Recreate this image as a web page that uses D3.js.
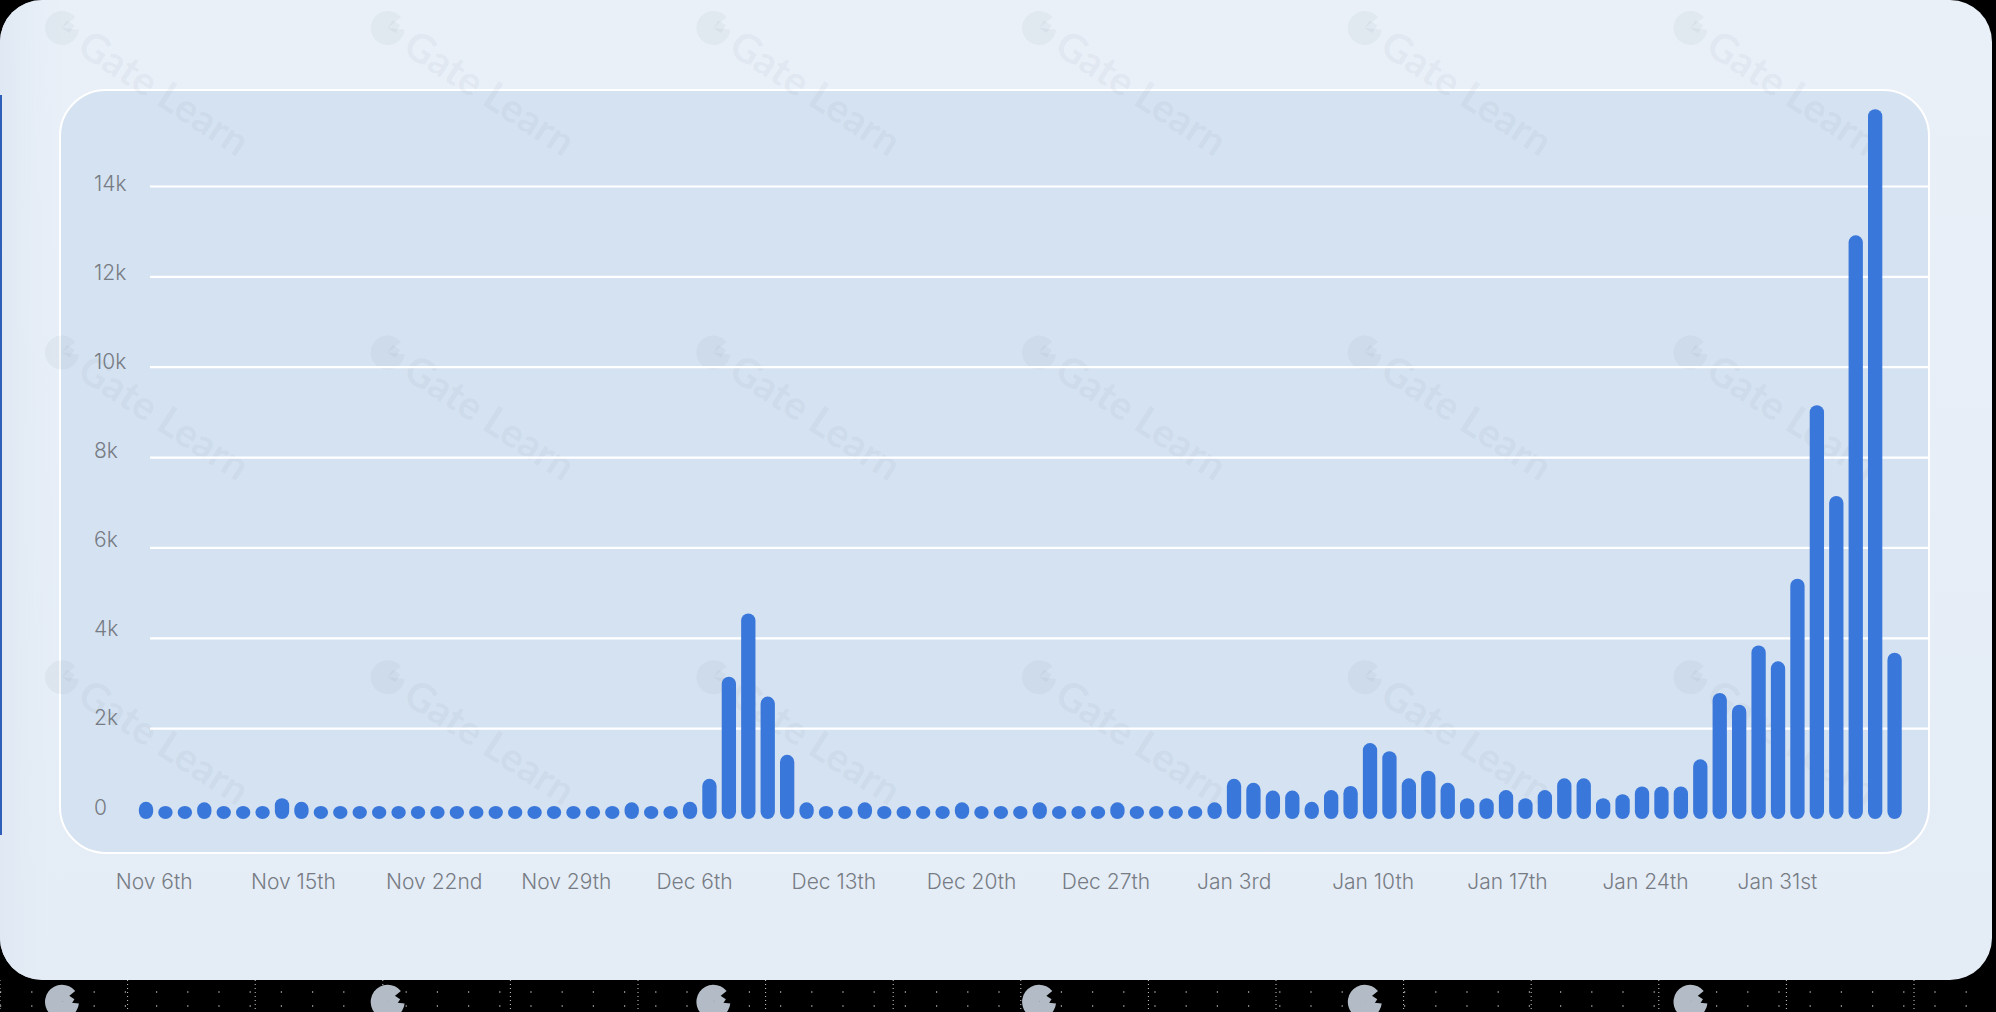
<!DOCTYPE html>
<html><head><meta charset="utf-8">
<script src="https://cdn.jsdelivr.net/npm/d3@7"></script>
<style>html,body{margin:0;padding:0;background:#000;overflow:hidden}</style>
</head><body><svg id="c" width="1996" height="1012"></svg>
<script>
// ---- data ----
const values = [
  380, 290, 290, 370, 290, 290, 290, 460, 380,
  290, 290, 290, 290, 290, 290, 290, 290, 290, 290, 290, 290, 290, 290, 290, 290,
  370, 290, 290, 380, 890, 3150, 4550, 2710, 1420, 370,
  290, 290, 370, 290, 290, 290, 290, 370, 290, 290, 290, 370, 290, 290, 290, 370,
  290, 290, 290, 290, 370, 890, 800, 630, 630, 380,
  640, 730, 1680, 1500, 900, 1070, 800, 460, 460, 640, 460, 640, 900, 900, 460,
  550, 720, 720, 720, 1320, 2790, 2530, 3840, 3490, 5320, 9160, 7150, 12920, 15710, 3680
];
const yTicks = [0, 2000, 4000, 6000, 8000, 10000, 12000, 14000];
const yTickLabels = ["0", "2k", "4k", "6k", "8k", "10k", "12k", "14k"];
const xTickLabels = ["Nov 6th", "Nov 15th", "Nov 22nd", "Nov 29th", "Dec 6th", "Dec 13th",
  "Dec 20th", "Dec 27th", "Jan 3rd", "Jan 10th", "Jan 17th", "Jan 24th", "Jan 31st"];

// ---- drawing ----
const svg = d3.select("#c");
const W = 1996, H = 1012;
const defs = svg.append("defs");

const g1 = defs.append("linearGradient").attr("id", "cardGrad").attr("x1", 0).attr("y1", 0).attr("x2", 0).attr("y2", 1);
g1.append("stop").attr("offset", "0%").attr("stop-color", "#e9f0f8");
g1.append("stop").attr("offset", "100%").attr("stop-color", "#e4ecf6");
const g2 = defs.append("linearGradient").attr("id", "edgeGrad").attr("x1", 0).attr("y1", 0).attr("x2", 1).attr("y2", 0);
g2.append("stop").attr("offset", "0%").attr("stop-color", "#dfe8f3").attr("stop-opacity", 1);
g2.append("stop").attr("offset", "100%").attr("stop-color", "#e7eef7").attr("stop-opacity", 0);

defs.append("clipPath").attr("id", "cardClip").append("rect")
  .attr("x", 0).attr("y", 0).attr("width", 1992).attr("height", 980).attr("rx", 42);
defs.append("clipPath").attr("id", "stripClip").append("rect")
  .attr("x", 0).attr("y", 980).attr("width", W).attr("height", 32);

// background
svg.append("rect").attr("width", W).attr("height", H).attr("fill", "#000");

// bottom strip dotted grid
const strip = svg.append("g");
d3.range(0, W, 127.6).forEach(x => {
  strip.append("line").attr("x1", x).attr("x2", x).attr("y1", 980).attr("y2", H)
    .attr("stroke", "#fff").attr("stroke-width", 1).attr("stroke-dasharray", "1,3").attr("opacity", 0.8);
});
strip.append("line").attr("x1", 0).attr("x2", W).attr("y1", 992).attr("y2", 992)
  .attr("stroke", "#fff").attr("stroke-width", 1.2).attr("stroke-dasharray", "1.2,30");
strip.append("line").attr("x1", 0).attr("x2", W).attr("y1", 1006).attr("y2", 1006)
  .attr("stroke", "#fff").attr("stroke-width", 1.2).attr("stroke-dasharray", "1.2,30");

// card
svg.append("rect").attr("x", 0).attr("y", 0).attr("width", 1992).attr("height", 980).attr("rx", 42)
  .attr("fill", "url(#cardGrad)");
svg.append("rect").attr("x", 0).attr("y", 0).attr("width", 70).attr("height", 980)
  .attr("fill", "url(#edgeGrad)").attr("clip-path", "url(#cardClip)");
svg.append("rect").attr("x", 0).attr("y", 95).attr("width", 2).attr("height", 740).attr("fill", "#2f5fb8");

// inner panel
svg.append("rect").attr("x", 60).attr("y", 90).attr("width", 1869).attr("height", 763).attr("rx", 46)
  .attr("fill", "#d5e2f1").attr("stroke", "#ffffff").attr("stroke-width", 2);

// watermarks
function logo(g, fill) {
  g.append("path")
    .attr("d", d3.arc()({innerRadius: 0, outerRadius: 17, startAngle: 0.35 * Math.PI, endAngle: 2.1 * Math.PI}))
    .attr("fill", fill);
  g.append("rect").attr("x", 0).attr("y", -9).attr("width", 9).attr("height", 9).attr("fill", fill);
}
function watermark(g, cx, cy, fill, withText) {
  const w = g.append("g").attr("transform", `translate(${cx},${cy}) rotate(33)`);
  logo(w, fill);
  if (withText) {
    w.append("text").attr("x", 24).attr("y", 13).text("Gate Learn")
      .attr("font-family", "Lato, 'Open Sans', sans-serif").attr("font-weight", 700).attr("font-size", 40)
      .attr("fill", fill);
  }
}
const wmCard = svg.append("g").attr("clip-path", "url(#cardClip)");
const wmStrip = svg.append("g").attr("clip-path", "url(#stripClip)");
for (let k = 0; k < 6; k++) {
  for (let j = 0; j < 3; j++) {
    watermark(wmCard, 62 + 325.7 * k, 28 + 324.6 * j, "rgba(110,125,145,0.07)", true);
  }
  watermark(wmStrip, 62 + 325.7 * k, 28 + 324.6 * 3, "#b3bcc6", false);
}

// scales
const x = d3.scaleBand().domain(d3.range(values.length))
  .range([136.3, 1904.3]).paddingInner(0.264).paddingOuter(0.132);
const y = d3.scaleLinear().domain([0, 14000]).range([819, 186.5]);
const yLab = d3.scaleLinear().domain([0, 14000]).range([807, 183]);
const xLab = d3.scaleLinear().domain([0, xTickLabels.length - 1]).range([115.8, 1737.6]);

// gridlines
svg.append("g").selectAll("line").data(yTicks.filter(d => d > 0)).join("line")
  .attr("x1", 150).attr("x2", 1928)
  .attr("y1", d => y(d)).attr("y2", d => y(d))
  .attr("stroke", "#ffffff").attr("stroke-width", 2.2);

// y labels
svg.append("g").selectAll("text").data(yTicks).join("text")
  .attr("x", 94).attr("y", d => yLab(d))
  .attr("dominant-baseline", "central")
  .attr("font-family", "Inter, 'Open Sans', sans-serif").attr("font-weight", 300).attr("font-size", 21)
  .attr("fill", "#777c84")
  .text((d, i) => yTickLabels[i]);

// bars
svg.append("g").selectAll("rect").data(values).join("rect")
  .attr("x", (d, i) => x(i))
  .attr("width", x.bandwidth())
  .attr("y", d => y(d))
  .attr("height", d => y(0) - y(d))
  .attr("rx", x.bandwidth() / 2)
  .attr("fill", "#3977da");

// x labels
svg.append("g").selectAll("text").data(xTickLabels).join("text")
  .attr("x", (d, i) => xLab(i)).attr("y", 881)
  .attr("dominant-baseline", "central")
  .attr("font-family", "Inter, 'Open Sans', sans-serif").attr("font-weight", 300).attr("font-size", 21)
  .attr("fill", "#777c84")
  .text(d => d);
</script>
</body></html>
